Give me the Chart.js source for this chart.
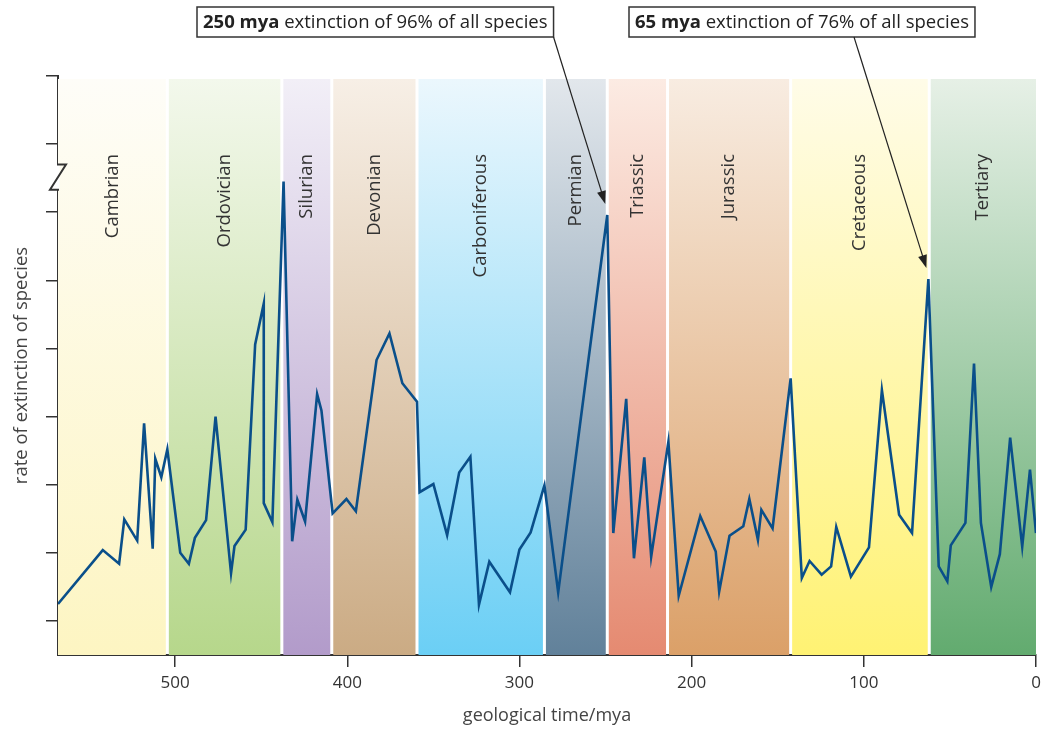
<!DOCTYPE html>
<html>
<head>
<meta charset="utf-8">
<script src="https://cdn.jsdelivr.net/npm/chart.js@4.4.0/dist/chart.umd.min.js"></script>
<style>
  html, body { margin: 0; padding: 0; background: #fff; }
  #wrap { width: 1047px; height: 729px; position: relative; }
</style>
</head>
<body>
<div id="wrap"><canvas id="extinctionChart"></canvas></div>
<script>
// geological time (million years ago) and extinction rate
const mya = [568, 542, 532.5, 529.5, 522, 518, 513, 511.5, 508, 504.5, 497, 492, 488.5, 482, 476.5, 467.5, 465.5, 459, 453.5, 448.5,
  448.5, 443.5, 437, 432, 429, 424.5, 417.5, 415, 408.5, 400.5, 395, 383, 375.5, 368, 359.5, 358, 350, 342, 335, 328.5,
  323.5, 317.5, 305.5, 300, 293.5, 285.5, 277.5, 249, 245.5, 238, 233.5, 227.5, 223.5, 213.5, 207.5, 195, 186, 184, 178, 170,
  166.5, 161.5, 159.5, 153, 142.5, 136, 131.5, 124.5, 119, 116, 107.5, 97, 89.5, 79.5, 72, 62.5, 56.5, 51.5, 49.5, 41,
  36, 32, 26, 21, 15, 8, 3.5, 0];
const rate = [0.75, 1.54, 1.34, 1.99, 1.68, 3.40, 1.56, 2.88, 2.61, 3.02, 1.50, 1.34, 1.72, 1.98, 3.50, 1.20, 1.60, 1.84, 4.56, 5.16,
  2.23, 1.95, 6.95, 1.67, 2.28, 1.96, 3.83, 3.59, 2.08, 2.29, 2.11, 4.33, 4.72, 3.99, 3.72, 2.39, 2.51, 1.76, 2.68, 2.91,
  0.74, 1.37, 0.92, 1.55, 1.80, 2.49, 0.92, 6.46, 1.79, 3.76, 1.42, 2.90, 1.44, 3.13, 0.87, 2.04, 1.52, 0.93, 1.75, 1.89,
  2.29, 1.69, 2.13, 1.86, 4.06, 1.13, 1.38, 1.18, 1.30, 1.88, 1.15, 1.58, 3.89, 2.06, 1.79, 5.52, 1.30, 1.08, 1.61, 1.94,
  4.28, 1.94, 1.00, 1.48, 3.19, 1.59, 2.72, 1.79];

// periods and their boundaries (mya), oldest first
const periods = ['Cambrian', 'Ordovician', 'Silurian', 'Devonian', 'Carboniferous', 'Permian', 'Triassic', 'Jurassic', 'Cretaceous', 'Tertiary'];
const boundaries = [568, 504.5, 438, 409, 359.5, 285.5, 249, 214, 142.5, 62, 0];

const xTicks = [0, 100, 200, 300, 400, 500];
const yTicks = [0.5, 1.5, 2.5, 3.5, 4.5, 5.5, 6.5, 7.5, 8.5];

// annotation callouts
const calloutBold = ['250 mya', '65 mya'];
const calloutText = [' extinction of 96% of all species', ' extinction of 76% of all species'];
const calloutMya = [249, 62.5];
const calloutRate = [6.46, 5.52];

// band gradient colours: top / bottom
const bandTop = ['#fefdf8', '#f3f8ec', '#f2eff7', '#f7efe6', '#ebf7fd', '#e2e7ec', '#fcebe3', '#f8ece1', '#fffce8', '#e6f0e6'];
const bandBottom = ['#fdf5c2', '#b6d78b', '#b29bca', '#cbab84', '#6bcff5', '#61819a', '#e58a71', '#dba068', '#fff273', '#62ab6f'];

const FONT = "'Open Sans', 'DejaVu Sans', sans-serif";

// fond des périodes
const bandsPlugin = {
  id: 'bands',
  beforeDatasetsDraw(chart) {
    const { ctx, chartArea, scales: { x } } = chart;
    const top = chartArea.top + 3;
    const bottom = chartArea.bottom;
    ctx.save();
    for (let i = 0; i < periods.length; i++) {
      let x1 = x.getPixelForValue(boundaries[i]);
      let x2 = x.getPixelForValue(boundaries[i + 1]);
      if (i > 0) x1 += 1.5;
      if (i < periods.length - 1) x2 -= 1.5;
      const g = ctx.createLinearGradient(0, top, 0, bottom);
      g.addColorStop(0, bandTop[i]);
      g.addColorStop(1, bandBottom[i]);
      ctx.fillStyle = g;
      ctx.fillRect(x1, top, x2 - x1, bottom - top);

      // period label, rotated
      const cx = (x.getPixelForValue(boundaries[i]) + x.getPixelForValue(boundaries[i + 1])) / 2;
      ctx.save();
      ctx.translate(cx, 154);
      ctx.rotate(-Math.PI / 2);
      ctx.font = '18.5px ' + FONT;
      ctx.fillStyle = '#333';
      ctx.textAlign = 'right';
      ctx.textBaseline = 'middle';
      ctx.fillText(periods[i], 0, 0);
      ctx.restore();
    }
    ctx.restore();
  }
};

// axis break + callouts
const overlayPlugin = {
  id: 'overlay',
  afterDraw(chart) {
    const { ctx, scales: { x, y } } = chart;
    const ax = chart.chartArea.left;
    const y1 = y.getPixelForValue(7.2);
    const y2 = y.getPixelForValue(6.83);
    ctx.save();
    ctx.fillStyle = '#fff';
    ctx.fillRect(ax - 2, y1, 3.5, y2 - y1);
    ctx.strokeStyle = '#333';
    ctx.lineWidth = 2;
    ctx.lineJoin = 'miter';
    ctx.beginPath();
    ctx.moveTo(ax, y1 - 1);
    ctx.lineTo(ax, y1);
    ctx.lineTo(ax + 8, y1);
    ctx.lineTo(ax - 8, y2);
    ctx.lineTo(ax, y2);
    ctx.lineTo(ax, y2 + 1);
    ctx.stroke();

    const boxLeft = [197, 629];
    const lineStartX = [559, 854];
    for (let i = 0; i < calloutBold.length; i++) {
      ctx.font = 'bold 18.5px ' + FONT;
      const wb = ctx.measureText(calloutBold[i]).width;
      ctx.font = '18.5px ' + FONT;
      const wt = ctx.measureText(calloutText[i]).width;
      const bx = boxLeft[i];
      const bw = wb + wt + 12;
      const by = 7, bh = 30;
      ctx.fillStyle = '#fff';
      ctx.fillRect(bx, by, bw, bh);
      ctx.strokeStyle = '#333';
      ctx.lineWidth = 1.5;
      ctx.strokeRect(bx, by, bw, bh);
      ctx.fillStyle = '#222';
      ctx.textBaseline = 'middle';
      ctx.textAlign = 'left';
      ctx.font = 'bold 18.5px ' + FONT;
      ctx.fillText(calloutBold[i], bx + 6, by + bh / 2 + 1);
      ctx.font = '18.5px ' + FONT;
      ctx.fillText(calloutText[i], bx + 6 + wb, by + bh / 2 + 1);

      // leader arrow
      const sx = i === 0 ? Math.min(lineStartX[i], bx + bw) : lineStartX[i];
      const sy = by + bh;
      const tx = x.getPixelForValue(calloutMya[i]) - 2;
      const ty = y.getPixelForValue(calloutRate[i]) - 11;
      const ang = Math.atan2(ty - sy, tx - sx);
      ctx.strokeStyle = '#222';
      ctx.lineWidth = 1.2;
      ctx.beginPath();
      ctx.moveTo(sx, sy);
      ctx.lineTo(tx - 8 * Math.cos(ang), ty - 8 * Math.sin(ang));
      ctx.stroke();
      ctx.fillStyle = '#222';
      ctx.beginPath();
      ctx.moveTo(tx, ty);
      ctx.lineTo(tx - 13 * Math.cos(ang) + 4.5 * Math.sin(ang), ty - 13 * Math.sin(ang) - 4.5 * Math.cos(ang));
      ctx.lineTo(tx - 13 * Math.cos(ang) - 4.5 * Math.sin(ang), ty - 13 * Math.sin(ang) + 4.5 * Math.cos(ang));
      ctx.closePath();
      ctx.fill();
    }
    ctx.restore();
  }
};

const points = mya.map((m, i) => ({ x: m, y: rate[i] }));

new Chart(document.getElementById('extinctionChart'), {
  type: 'line',
  data: {
    datasets: [{
      data: points,
      borderColor: '#0a4f8a',
      borderWidth: 2.6,
      pointRadius: 0,
      tension: 0,
      fill: false
    }]
  },
  options: {
    responsive: true,
    maintainAspectRatio: false,
    animation: false,
    layout: { padding: { top: 76, right: 11, left: 0, bottom: 0 } },
    plugins: { legend: { display: false }, tooltip: { enabled: false } },
    scales: {
      x: {
        type: 'linear',
        reverse: true,
        min: 0,
        max: 568,
        afterBuildTicks: axis => { axis.ticks = xTicks.map(v => ({ value: v })); },
        afterFit: axis => { axis.height = 74; },
        grid: { drawOnChartArea: false, drawTicks: true, tickLength: 12, color: '#333', lineWidth: 1.5 },
        border: { display: true, color: '#333', width: 2 },
        ticks: { color: '#333', font: { family: FONT, size: 17 }, padding: 6, maxRotation: 0 },
        title: { display: true, text: 'geological time/mya', color: '#444', font: { family: FONT, size: 18 }, padding: { top: 0, bottom: 2 } }
      },
      y: {
        type: 'linear',
        min: 0,
        max: 8.5,
        afterBuildTicks: axis => { axis.ticks = yTicks.map(v => ({ value: v })); },
        afterFit: axis => { axis.width = 58; },
        grid: { drawOnChartArea: false, drawTicks: true, tickLength: 12, color: '#333', lineWidth: 1.5 },
        border: { display: true, color: '#333', width: 2 },
        ticks: { display: false },
        title: { display: true, text: 'rate of extinction of species', color: '#444', font: { family: FONT, size: 18.5 }, padding: { top: 11, bottom: 0 } }
      }
    }
  },
  plugins: [bandsPlugin, overlayPlugin]
});
</script>
</body>
</html>
